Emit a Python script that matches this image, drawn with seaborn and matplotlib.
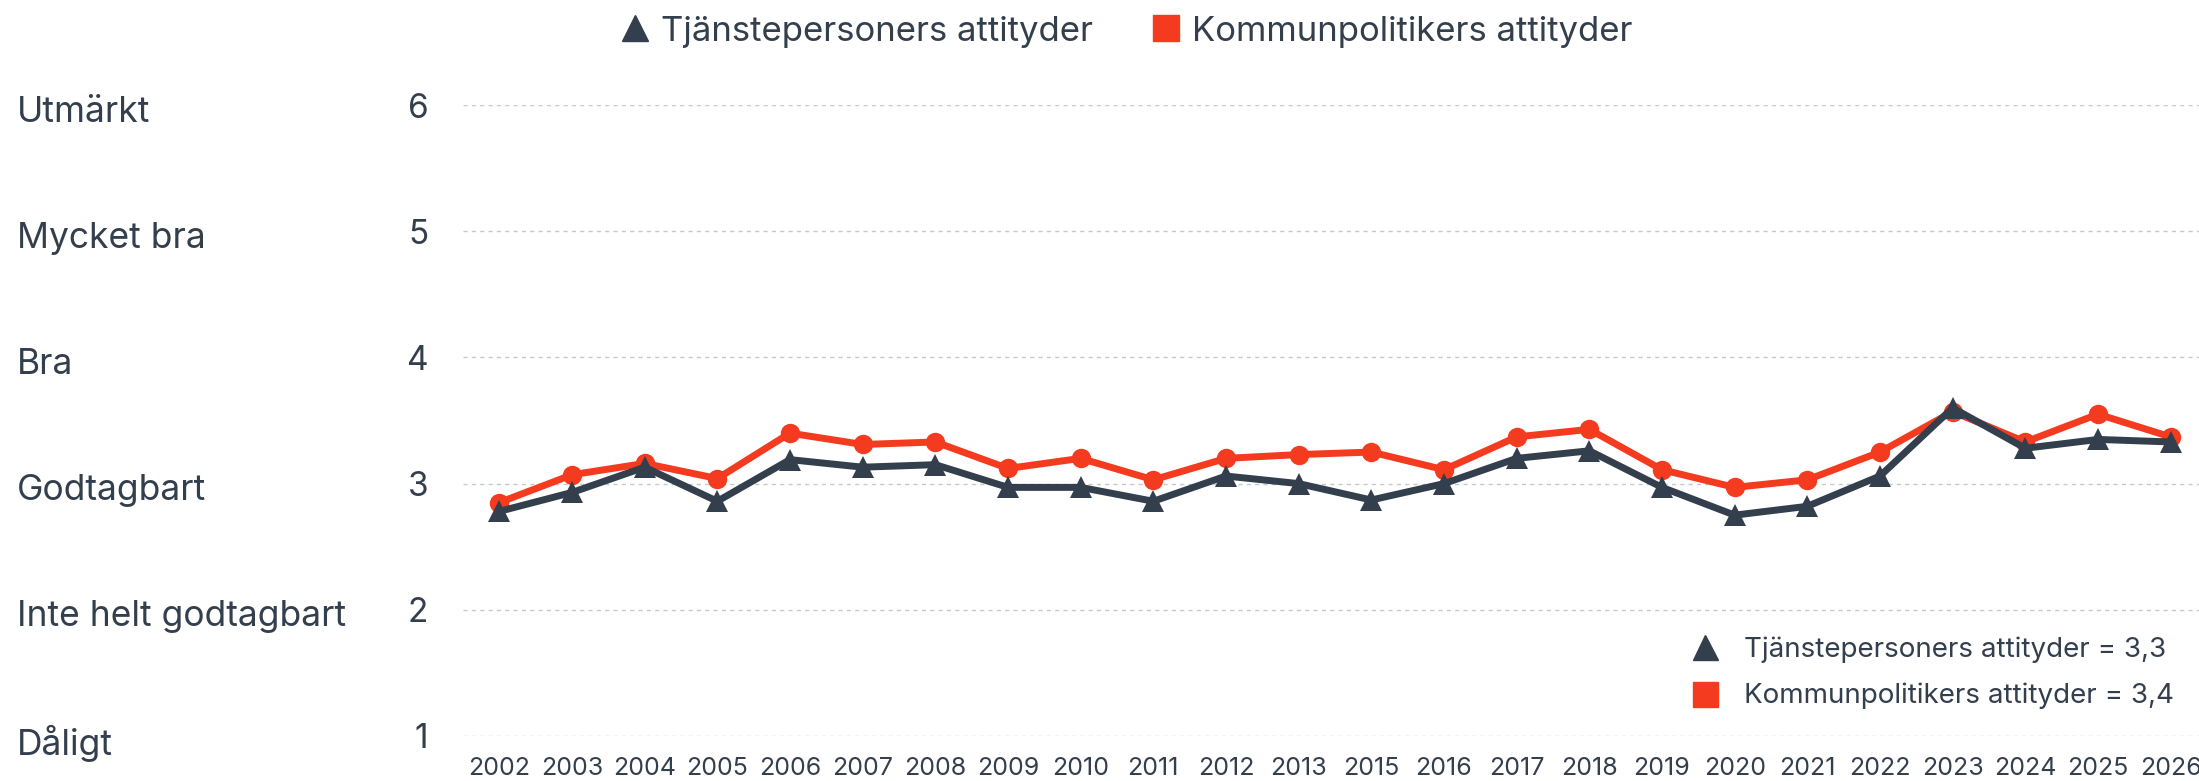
import matplotlib
matplotlib.use("Agg")
import matplotlib.pyplot as plt
from matplotlib.lines import Line2D
import seaborn as sns
import pandas as pd

# --- data ---
YEARS = ["2002", "2003", "2004", "2005", "2006", "2007", "2008", "2009",
         "2010", "2011", "2012", "2013", "2015", "2016", "2017", "2018",
         "2019", "2020", "2021", "2022", "2023", "2024", "2025", "2026"]
TJANSTE = [2.78, 2.93, 3.13, 2.86, 3.19, 3.13, 3.15, 2.97, 2.97, 2.86, 3.06, 3.00,
           2.87, 3.00, 3.20, 3.26, 2.97, 2.75, 2.82, 3.06, 3.60, 3.28, 3.35, 3.33]
POLITIKER = [2.85, 3.07, 3.16, 3.04, 3.40, 3.31, 3.33, 3.12, 3.20, 3.03, 3.20, 3.23,
             3.25, 3.11, 3.37, 3.43, 3.11, 2.97, 3.03, 3.25, 3.57, 3.33, 3.55, 3.37]
SCALE_VALUES = [1, 2, 3, 4, 5, 6]
SCALE_LABELS = ["Dåligt", "Inte helt godtagbart", "Godtagbart", "Bra", "Mycket bra", "Utmärkt"]
NAME_T = "Tjänstepersoners attityder"
NAME_P = "Kommunpolitikers attityder"
MEAN_T = "3,3"
MEAN_P = "3,4"

DARK = "#333f4d"
RED = "#f43b1f"
TEXT = "#333f4d"

sns.set_theme(style="white")
plt.rcParams["font.family"] = ["Inter", "DejaVu Sans"]

df = pd.DataFrame({"year": YEARS, "tj": TJANSTE, "po": POLITIKER})

fig = plt.figure(figsize=(21.99, 7.81), dpi=100)
ax = fig.add_axes([463 / 2199, 1 - 736 / 781, 1 - 463 / 2199, (736 - 105) / 781])

sns.lineplot(data=df, x="year", y="tj", ax=ax, color=DARK, lw=5, marker="^",
             markersize=16, markeredgewidth=0, sort=False, zorder=3)
sns.lineplot(data=df, x="year", y="po", ax=ax, color=RED, lw=5, marker="o",
             markersize=14, markeredgewidth=0, sort=False, zorder=2)

ax.set_ylim(1, 6)
ax.set_xlim(-0.5, len(YEARS) - 1 + 0.39)
ax.set_yticks(SCALE_VALUES)
ax.set_yticklabels([str(v) for v in SCALE_VALUES])
ax.set_xlabel("")
ax.set_ylabel("")
for s in ax.spines.values():
    s.set_visible(False)
ax.grid(axis="y", color="#c8c8c8", lw=1, ls=(0, (3, 3)))
ax.grid(axis="x", visible=False)
ax.tick_params(axis="y", length=0, pad=25, labelsize=24, labelcolor=TEXT)
ax.tick_params(axis="x", length=0, pad=15, labelsize=18, labelcolor=TEXT)

# scale names at the far left
for v, lab in zip(SCALE_VALUES, SCALE_LABELS):
    fig.text(17 / 2199, (ax.transData.transform((0, v))[1] - 7) / 781, lab,
             ha="left", va="center", fontsize=25.5, color=TEXT)

# top legend
top_handles = [
    Line2D([], [], color=DARK, marker="^", ls="none", markersize=19),
    Line2D([], [], color=RED, marker="s", ls="none", markersize=19),
]
fig.legend(top_handles, [NAME_T, NAME_P], loc="upper center",
           bbox_to_anchor=(802 * 1.4025 / 2199, 1.02), ncol=2, frameon=False,
           fontsize=25, labelcolor=TEXT, handletextpad=0.25, columnspacing=1.6,
           handlelength=1.0)

# mean legend bottom right
mean_handles = [
    Line2D([], [], color=DARK, marker="^", ls="none", markersize=18),
    Line2D([], [], color=RED, marker="s", ls="none", markersize=18),
]
ax.legend(mean_handles, [f"{NAME_T} = {MEAN_T}", f"{NAME_P} = {MEAN_P}"],
          loc="center right", bbox_to_anchor=(0.992, 0.10), borderaxespad=0,
          frameon=False, fontsize=20, labelcolor=TEXT, handletextpad=0.8,
          labelspacing=0.72, handlelength=1.2)

fig.savefig("out.png", dpi=100)
